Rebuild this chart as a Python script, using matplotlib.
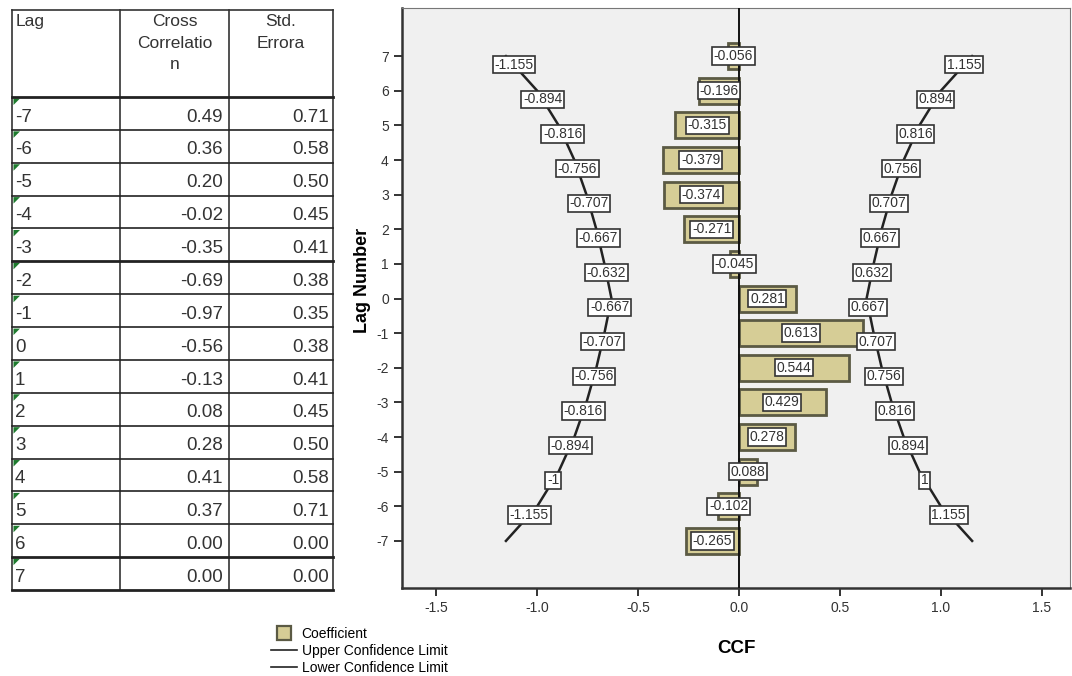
import numpy as np
import matplotlib.pyplot as plt
from matplotlib.patches import Polygon
from matplotlib.lines import Line2D

plt.rcParams['font.family'] = ['Liberation Sans', 'DejaVu Sans']
plt.rcParams['axes.unicode_minus'] = False

# table data
tab_lags = [-7, -6, -5, -4, -3, -2, -1, 0, 1, 2, 3, 4, 5, 6, 7]
cross_corr = [0.49, 0.36, 0.20, -0.02, -0.35, -0.69, -0.97, -0.56, -0.13, 0.08, 0.28, 0.41, 0.37, 0.00, 0.00]
std_err = [0.71, 0.58, 0.50, 0.45, 0.41, 0.38, 0.35, 0.38, 0.41, 0.45, 0.50, 0.58, 0.71, 0.00, 0.00]

# chart data (top to bottom)
lags = np.array([7, 6, 5, 4, 3, 2, 1, 0, -1, -2, -3, -4, -5, -6, -7])
coef = [-0.056, -0.196, -0.315, -0.379, -0.374, -0.271, -0.045, 0.281,
        0.613, 0.544, 0.429, 0.278, 0.088, -0.102, -0.265]
upper = np.array([1.155, 1.0, 0.894, 0.816, 0.756, 0.707, 0.667, 0.632,
                  0.667, 0.707, 0.756, 0.816, 0.894, 1.0, 1.155])
lower = -upper

fig = plt.figure(figsize=(10.72, 6.76), dpi=100)

# ---- table drawn in pixel coords ----
tax = fig.add_axes([0, 0, 1, 1])
tax.set_xlim(0, 1072)
tax.set_ylim(676, 0)
tax.axis('off')
x0, x1, x2, x3 = 12, 120, 229, 333
ytop, yhead = 10, 97
rowh = (590 - yhead) / len(tab_lags)
ybot = yhead + rowh * len(tab_lags)
for xv in (x0, x1, x2, x3):
    tax.plot([xv, xv], [ytop, ybot], color='#333333', lw=1.2)
tax.plot([x0, x3], [ytop, ytop], color='#333333', lw=1.2)
for i in range(len(tab_lags) + 1):
    yv = yhead + i * rowh
    lw = 2.0 if i in (0, 5, 14, 15) else 1.2
    tax.plot([x0, x3], [yv, yv], color='#222222', lw=lw)
tax.text(x0 + 4, ytop + 4, 'Lag', fontsize=12.5, va='top', ha='left', color='#333333')
tax.text((x1 + x2) / 2, ytop + 4, 'Cross\nCorrelatio\nn', fontsize=12.5, va='top', ha='center',
         color='#333333', linespacing=1.55)
tax.text((x2 + x3) / 2, ytop + 4, 'Std.\nErrora', fontsize=12.5, va='top', ha='center',
         color='#333333', linespacing=1.55)
for i, (lg, cc, se) in enumerate(zip(tab_lags, cross_corr, std_err)):
    yc = yhead + (i + 0.55) * rowh
    tax.text(x0 + 3, yc + 2, str(lg), fontsize=13.5, va='center', ha='left', color='#333333')
    tax.text(x2 - 6, yc + 2, '%.2f' % cc, fontsize=13.5, va='center', ha='right', color='#333333')
    tax.text(x3 - 4, yc + 2, '%.2f' % se, fontsize=13.5, va='center', ha='right', color='#333333')
    yt = yhead + i * rowh + 1.5
    tax.add_patch(Polygon([[x0 + 1.5, yt], [x0 + 8, yt], [x0 + 1.5, yt + 6.5]],
                          closed=True, color='#1e7b2e', lw=0))

# ---- chart ----
ax = fig.add_axes([402 / 1072, 1 - 588 / 676, 668 / 1072, 580 / 676])
ax.set_facecolor('#f0f0f0')
ax.barh(lags, coef, height=0.75, color='#d6cd96', edgecolor='#5b5a44', lw=2, zorder=2)
ax.axvline(0, color='#111111', lw=1.4, zorder=3)
ax.plot(upper, lags, color='#222222', lw=1.8, zorder=3)
ax.plot(lower, lags, color='#222222', lw=1.8, zorder=3)

box = dict(boxstyle='square,pad=0.12', fc='white', ec='#333333', lw=1.2)
for lg, v in zip(lags, coef):
    ax.text(v / 2, lg, '%.3f' % v, fontsize=10, ha='center', va='center',
            color='#333333', bbox=box, zorder=5)

# confidence-limit labels sit a bit above each point; lag 6 one is hidden behind lag 7's
asc_l = lags[::-1]
for k in range(len(lags)):
    if lags[k] == 6:
        continue
    ly = min(lags[k] + 0.75, 6.75)
    for vals in (upper, lower):
        xl = np.interp(ly, asc_l, vals[::-1])
        ax.text(xl, ly, '%g' % vals[k], fontsize=10, ha='center', va='center',
                color='#333333', bbox=box, zorder=5)

ax.set_xlim(-1.67, 1.64)
ax.set_ylim(-8.36, 8.39)
ax.set_xticks([-1.5, -1.0, -0.5, 0.0, 0.5, 1.0, 1.5])
ax.set_xticklabels(['-1.5', '-1.0', '-0.5', '0.0', '0.5', '1.0', '1.5'])
ax.set_yticks(range(-7, 8))
ax.tick_params(labelsize=10, colors='#333333', length=6, width=1.4)
for s in ('left', 'bottom'):
    ax.spines[s].set_linewidth(1.8)
    ax.spines[s].set_color('#333333')
for s in ('top', 'right'):
    ax.spines[s].set_linewidth(0.8)
    ax.spines[s].set_color('#777777')
ax.set_ylabel('Lag Number', fontsize=13, fontweight='bold')
ax.yaxis.set_label_coords(-0.046, 0.53)
ax.set_xlabel('CCF', fontsize=13.5, fontweight='bold', labelpad=18)

handles = [Line2D([], [], ls='none', marker='s', markersize=10, markerfacecolor='#d6cd96',
                  markeredgecolor='#5b5a44', markeredgewidth=1.6),
           Line2D([], [], color='#222222', lw=1.2),
           Line2D([], [], color='#222222', lw=1.2)]
fig.legend(handles, ['Coefficient', 'Upper Confidence Limit', 'Lower Confidence Limit'],
           loc='upper left', bbox_to_anchor=(264 / 1072, 1 - 620 / 676), frameon=False,
           fontsize=10, handlelength=1.9, handletextpad=0.3, labelspacing=0.22,
           borderpad=0)

fig.savefig('out.png', dpi=100)
